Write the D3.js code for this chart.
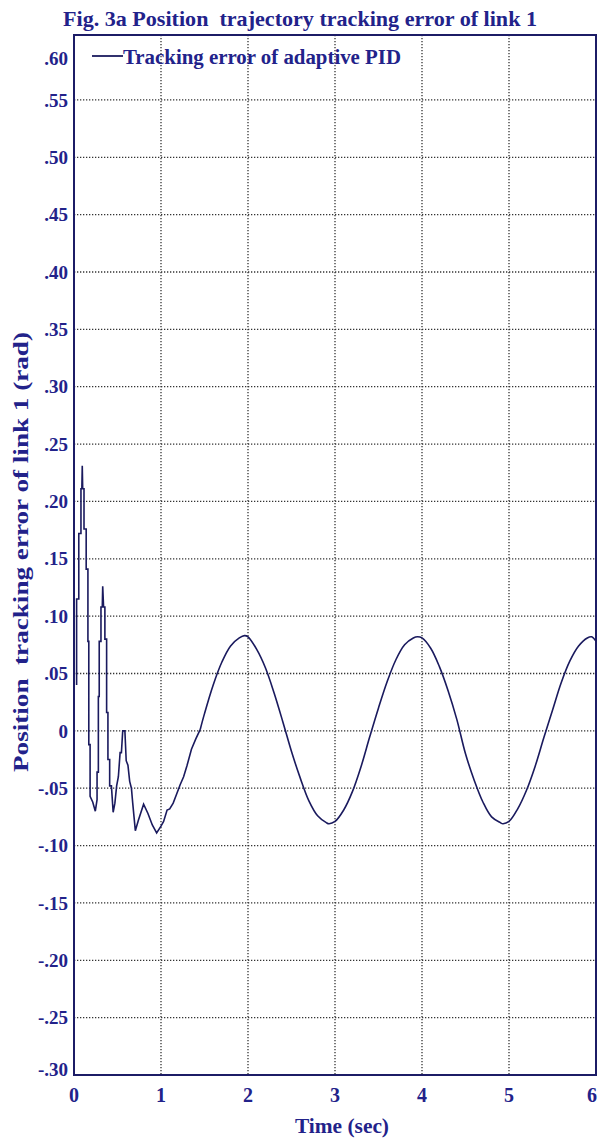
<!DOCTYPE html>
<html>
<head>
<meta charset="utf-8">
<script src="https://cdn.jsdelivr.net/npm/d3@7"></script>
<style>
  body { margin: 0; background: #fff; }
  text { font-family: "Liberation Serif", "DejaVu Serif", serif; font-weight: bold; fill: #22228a; white-space: pre; }
</style>
</head>
<body>
<svg width="601" height="1144"></svg>
<script>
var svg = d3.select('svg');

// tick values
var xTicks = [0, 1, 2, 3, 4, 5, 6];
var yTicks = [-0.30, -0.25, -0.20, -0.15, -0.10, -0.05, 0, 0.05, 0.10, 0.15, 0.20, 0.25, 0.30, 0.35, 0.40, 0.45, 0.50, 0.55, 0.60];

// transient part (stair-like)
var transientT = [0.03, 0.03, 0.055, 0.055, 0.08, 0.08, 0.09, 0.095, 0.10, 0.115, 0.115, 0.14, 0.14, 0.16, 0.16, 0.17, 0.17, 0.185, 0.185, 0.215, 0.245, 0.265, 0.265, 0.28, 0.28, 0.29, 0.29, 0.31, 0.31, 0.325, 0.33, 0.34, 0.355, 0.355, 0.375, 0.375, 0.39, 0.39, 0.41, 0.41, 0.43, 0.45, 0.47, 0.49, 0.51, 0.53, 0.545, 0.56, 0.585, 0.60, 0.62, 0.64, 0.66, 0.675, 0.69, 0.705, 0.74, 0.80, 0.85, 0.90, 0.95, 1.00, 1.03, 1.07, 1.10, 1.14, 1.18, 1.22, 1.26, 1.30, 1.35, 1.40, 1.45];
var transientV = [0.040, 0.115, 0.115, 0.172, 0.172, 0.211, 0.211, 0.231, 0.211, 0.211, 0.176, 0.176, 0.141, 0.141, 0.078, 0.078, -0.012, -0.012, -0.057, -0.062, -0.070, -0.060, -0.036, -0.036, 0.030, 0.030, 0.078, 0.078, 0.108, 0.108, 0.126, 0.108, 0.108, 0.080, 0.080, 0.016, 0.016, -0.025, -0.025, -0.048, -0.048, -0.071, -0.063, -0.048, -0.040, -0.019, -0.019, 0.000, 0.000, -0.026, -0.030, -0.044, -0.050, -0.063, -0.075, -0.087, -0.078, -0.064, -0.072, -0.082, -0.089, -0.083, -0.079, -0.069, -0.068, -0.063, -0.055, -0.047, -0.040, -0.030, -0.016, -0.007, 0.001];

// steady oscillation
var steadyT = [1.45, 1.5, 1.6, 1.7, 1.8, 1.9, 1.96, 2.0, 2.1, 2.2, 2.3, 2.4, 2.5, 2.6, 2.7, 2.8, 2.9, 2.93, 3.0, 3.1, 3.2, 3.3, 3.4, 3.5, 3.6, 3.7, 3.8, 3.9, 3.95, 4.0, 4.1, 4.2, 4.3, 4.4, 4.5, 4.6, 4.7, 4.8, 4.9, 4.93, 5.0, 5.1, 5.2, 5.3, 5.4, 5.5, 5.6, 5.7, 5.8, 5.9, 5.95, 6.0];
var steadyV = [0.001, 0.015, 0.040, 0.060, 0.074, 0.081, 0.083, 0.082, 0.071, 0.055, 0.033, 0.008, -0.018, -0.041, -0.061, -0.074, -0.080, -0.081, -0.079, -0.069, -0.053, -0.031, -0.005, 0.020, 0.043, 0.062, 0.075, 0.081, 0.082, 0.081, 0.072, 0.056, 0.035, 0.010, -0.020, -0.043, -0.062, -0.075, -0.080, -0.081, -0.079, -0.068, -0.052, -0.031, -0.006, 0.018, 0.042, 0.061, 0.074, 0.081, 0.082, 0.078];

var plotL = 74, plotR = 596, plotT = 35, plotB = 1075;

var x = d3.scaleLinear().domain([0, 6]).range([plotL, plotR]);
var y = d3.scaleLinear().domain([-0.30, 0.6066]).range([plotB, plotT]);

function fmt(v) {
    if (Math.abs(v) < 1e-9) return '0';
    var s = Math.abs(v).toFixed(2).replace(/^0/, '');
    return (v < 0 ? '-' : '') + s;
}

// grid
var grid = svg.append('g').attr('class', 'grid');
grid.selectAll('.hgrid')
    .data(yTicks.filter(function(d) { return d > -0.29 && d < 0.59; }))
    .enter()
    .append('line')
    .attr('x1', plotL).attr('x2', plotR)
    .attr('y1', function(d) { return y(d); })
    .attr('y2', function(d) { return y(d); })
    .attr('stroke', '#333')
    .attr('stroke-width', 1.3)
    .attr('stroke-dasharray', '1.3,1.7');

grid.selectAll('.vgrid')
    .data(xTicks.filter(function(d) { return d > 0 && d < 6; }))
    .enter()
    .append('line')
    .attr('y1', plotT).attr('y2', plotB)
    .attr('x1', function(d) { return x(d); })
    .attr('x2', function(d) { return x(d); })
    .attr('stroke', '#333')
    .attr('stroke-width', 1.3)
    .attr('stroke-dasharray', '1.3,1.7');

// frame
svg.append('rect')
    .attr('x', plotL).attr('y', plotT)
    .attr('width', plotR - plotL).attr('height', plotB - plotT)
    .attr('fill', 'none')
    .attr('stroke', '#1c1c66')
    .attr('stroke-width', 2);

// tick labels
svg.append('g').selectAll('text')
    .data(yTicks)
    .enter()
    .append('text')
    .attr('x', plotL - 6)
    .attr('y', function(d) { return d === 0.60 ? y(d) + 16 : (d === -0.30 ? y(d) - 6 : y(d)); })
    .attr('dy', '0.35em')
    .attr('text-anchor', 'end')
    .style('font-size', '19px')
    .text(fmt);

svg.append('g').selectAll('text')
    .data(xTicks)
    .enter()
    .append('text')
    .attr('x', function(d) { return d === 6 ? x(d) - 4 : x(d); })
    .attr('y', plotB + 27)
    .attr('text-anchor', 'middle')
    .style('font-size', '20px')
    .text(function(d) { return d; });

// titles
svg.append('text')
    .attr('x', 300).attr('y', 26)
    .attr('text-anchor', 'middle')
    .attr('textLength', 474)
    .attr('lengthAdjust', 'spacingAndGlyphs')
    .style('font-size', '21px')
    .text('Fig. 3a Position  trajectory tracking error of link 1');

svg.append('text')
    .attr('x', 342).attr('y', 1133)
    .attr('text-anchor', 'middle')
    .attr('textLength', 94)
    .attr('lengthAdjust', 'spacingAndGlyphs')
    .style('font-size', '20px')
    .text('Time (sec)');

svg.append('text')
    .attr('transform', 'translate(28,552) rotate(-90)')
    .attr('text-anchor', 'middle')
    .attr('textLength', 440)
    .attr('lengthAdjust', 'spacingAndGlyphs')
    .style('font-size', '21px')
    .text('Position  tracking error of link 1 (rad)');

// curve
var line = d3.line()
    .x(function(d) { return x(d[0]); })
    .y(function(d) { return y(d[1]); });

var transient = d3.zip(transientT, transientV);
var steady = d3.zip(steadyT, steadyV);

svg.append('path')
    .datum(transient)
    .attr('fill', 'none')
    .attr('stroke', '#1a1a5e')
    .attr('stroke-width', 1.6)
    .attr('d', line);

svg.append('path')
    .datum(steady)
    .attr('fill', 'none')
    .attr('stroke', '#1a1a5e')
    .attr('stroke-width', 1.6)
    .attr('d', line.curve(d3.curveCatmullRom));

// legend
svg.append('line')
    .attr('x1', 92).attr('x2', 123)
    .attr('y1', 56).attr('y2', 56)
    .attr('stroke', '#1a1a5e')
    .attr('stroke-width', 1.8);

svg.append('text')
    .attr('x', 123).attr('y', 64)
    .attr('textLength', 278)
    .attr('lengthAdjust', 'spacingAndGlyphs')
    .style('font-size', '20px')
    .text('Tracking error of adaptive PID');
</script>
</body>
</html>
